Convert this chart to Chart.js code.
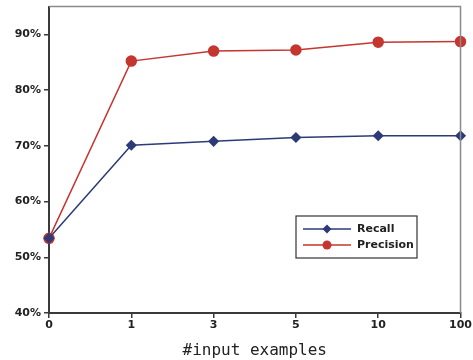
<!DOCTYPE html>
<html>
<head>
<meta charset="utf-8">
<script src="https://cdn.jsdelivr.net/npm/chart.js@4"></script>
<style>
  html, body { margin: 0; padding: 0; background: #fff; }
  #wrap { width: 473px; height: 360px; }
</style>
</head>
<body>
<div id="wrap"><canvas id="graph" width="473" height="360"></canvas></div>
<script>
const examples = ['0', '1', '3', '5', '10', '100'];
const recall = [53.4, 70.1, 70.8, 71.5, 71.8, 71.8];
const precision = [53.4, 85.2, 87.0, 87.2, 88.6, 88.7];
const yTicks = [40, 50, 60, 70, 80, 90];

const navy = '#2c3b78';
const red = '#c4362f';
const axisColor = '#3a3a3a';

// box round the plot and legend in lower right, like the original figure
const frameAndLegend = {
    id: 'frameAndLegend',
    afterDraw(chart) {
        const ctx = chart.ctx;
        const a = chart.chartArea;
        ctx.save();
        ctx.strokeStyle = '#8a8a8a';
        ctx.lineWidth = 1.5;
        ctx.beginPath();
        ctx.moveTo(a.left, a.top);
        ctx.lineTo(a.right, a.top);
        ctx.lineTo(a.right, a.bottom);
        ctx.stroke();

        let bx = 296, by = 216, bw = 121, bh = 42;
        ctx.fillStyle = '#fff';
        ctx.fillRect(bx, by, bw, bh);
        ctx.strokeStyle = '#333';
        ctx.lineWidth = 1.2;
        ctx.strokeRect(bx, by, bw, bh);

        chart.data.datasets.forEach((ds, i) => {
            let y = by + 13 + i * 16;
            ctx.strokeStyle = ds.borderColor;
            ctx.lineWidth = 1.5;
            ctx.beginPath();
            ctx.moveTo(bx + 7, y);
            ctx.lineTo(bx + 55, y);
            ctx.stroke();
            ctx.fillStyle = ds.backgroundColor;
            ctx.beginPath();
            if (ds.pointStyle === 'rectRot') {
                ctx.moveTo(bx + 31, y - 4.5);
                ctx.lineTo(bx + 35.5, y);
                ctx.lineTo(bx + 31, y + 4.5);
                ctx.lineTo(bx + 26.5, y);
                ctx.closePath();
            } else {
                ctx.arc(bx + 31, y, 4.5, 0, Math.PI * 2);
            }
            ctx.fill();
            ctx.fillStyle = '#222';
            ctx.font = 'bold 11px "DejaVu Sans"';
            ctx.textBaseline = 'middle';
            ctx.fillText(ds.label, bx + 61, y);
        });
        ctx.restore();
    }
};

var ctx = document.getElementById('graph').getContext('2d');
let chart = new Chart(ctx, {
    type: 'line',
    data: {
        labels: examples,
        datasets: [{
            label: 'Recall',
            data: recall,
            borderColor: navy,
            backgroundColor: navy,
            borderWidth: 1.5,
            pointStyle: 'rectRot',
            pointRadius: 4.5,
            tension: 0
        }, {
            label: 'Precision',
            data: precision,
            borderColor: red,
            backgroundColor: red,
            borderWidth: 1.5,
            pointStyle: 'circle',
            pointRadius: 5,
            tension: 0
        }]
    },
    options: {
        responsive: false,
        animation: false,
        layout: { padding: { top: 5, right: 11, left: 0, bottom: 0 } },
        plugins: {
            legend: { display: false },
            tooltip: { enabled: false }
        },
        scales: {
            x: {
                offset: false,
                grid: { display: true, drawOnChartArea: false, drawTicks: true, tickLength: 5, color: axisColor, lineWidth: 1.5 },
                border: { color: axisColor, width: 2 },
                ticks: { color: '#222', font: { family: 'DejaVu Sans', weight: 'bold', size: 11 }, padding: 1, maxRotation: 0 },
                title: {
                    display: true,
                    text: '#input examples',
                    color: '#222',
                    font: { family: 'DejaVu Sans Mono', size: 16 },
                    padding: { top: 0, bottom: 0 }
                },
                afterFit: function(axis) { axis.height = 47; }
            },
            y: {
                min: 40,
                max: 95,
                afterBuildTicks: function(axis) {
                    axis.ticks = yTicks.map(v => ({ value: v }));
                },
                grid: { display: true, drawOnChartArea: false, drawTicks: true, tickLength: 5, color: axisColor, lineWidth: 1.5 },
                border: { color: axisColor, width: 2 },
                ticks: {
                    color: '#222',
                    font: { family: 'DejaVu Sans', weight: 'bold', size: 11 },
                    padding: 3,
                    callback: function(value) { return value + '%'; }
                },
                afterFit: function(axis) {
                    axis.width = 49;
                    axis.paddingTop = 0;
                    axis.paddingBottom = 0;
                }
            }
        }
    },
    plugins: [frameAndLegend]
});
</script>
</body>
</html>
